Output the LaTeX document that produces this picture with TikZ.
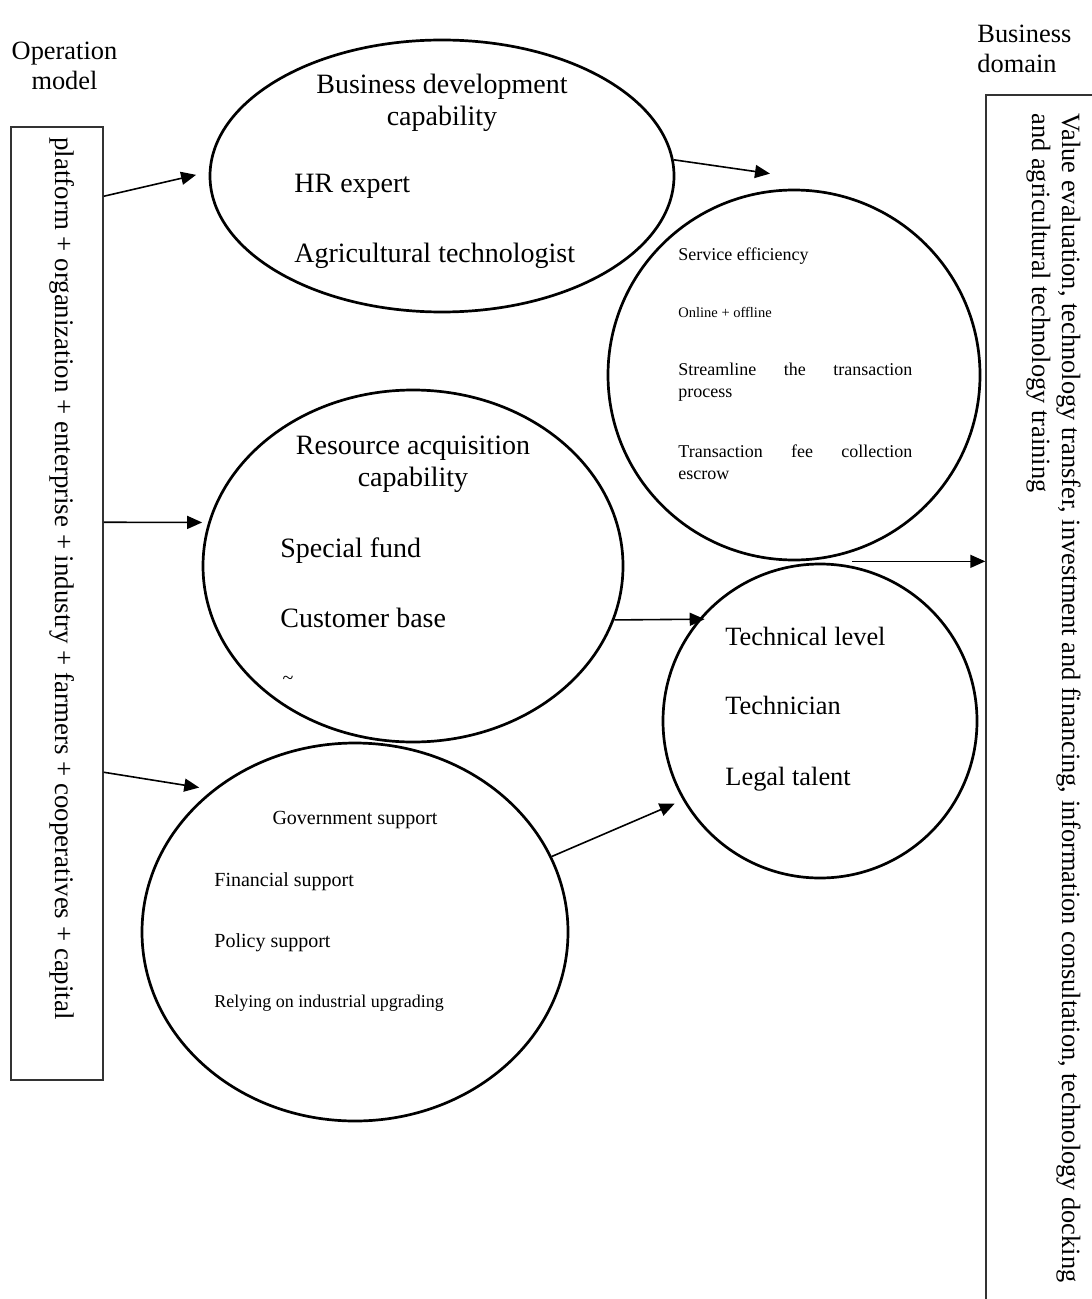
\documentclass[tikz,border=0pt]{standalone}
\usepackage{fontspec}
\setmainfont{Liberation Serif}
\usetikzlibrary{shapes.geometric,arrows.meta}
\hyphenpenalty=10000
\tolerance=10000

\begin{document}
\begin{tikzpicture}[x=0.5pt, y=-0.5pt,
		bubble/.style={draw, ellipse, line width=1.35pt, inner sep=0pt},
		frame/.style={draw=black!80, line width=0.75pt, inner sep=0pt},
		arr/.style={-{Triangle[length=7.5pt,width=6.5pt]}, line width=0.8pt},
		big/.style={inner sep=0pt, font=\fontsize{14pt}{16pt}\selectfont},
		mid/.style={inner sep=0pt, font=\fontsize{13.2pt}{15pt}\selectfont},
		gtext/.style={inner sep=0pt, font=\fontsize{10pt}{12pt}\selectfont},
		small/.style={inner sep=0pt, font=\fontsize{9pt}{11pt}\selectfont},
		tiny/.style={inner sep=0pt, font=\fontsize{7.25pt}{9pt}\selectfont}]
		\useasboundingbox (0,0) rectangle (1091,1299);
		
		% headers
		\node[mid, align=center, anchor=north] (ophead) at (64.5,42) {Operation\\model};
		\node[mid, align=left, anchor=north west] (domhead) at (977,25) {Business\\domain};
		
		% side boxes
		\node[frame, minimum width=46pt, minimum height=476.5pt] (opbox) at (57,603.5) {};
		\node[mid, font=\fontsize{13.45pt}{15pt}\selectfont, rotate=-90, anchor=west] (optext) at (62,137) {platform + organization + enterprise + industry + farmers + cooperatives + capital};
		\node[frame, minimum width=55pt, minimum height=605pt] (dombox) at (1041,700) {};
		\node[mid, rotate=-90, align=left, anchor=north west] (domtext) at (1081,113) {Value evaluation, technology transfer, investment and financing, information consultation, technology docking\\and agricultural technology training};
		
		% bubbles
		\node[bubble, minimum width=232pt, minimum height=136pt] (bdev) at (442,176) {};
		\node[bubble, minimum width=186pt, minimum height=185pt] (svc) at (794,375) {};
		\node[bubble, minimum width=210pt, minimum height=176pt] (res) at (413,566) {};
		\node[bubble, minimum width=157pt, minimum height=157pt] (tech) at (820,721) {};
		\node[bubble, minimum width=213pt, minimum height=189pt] (gov) at (355,932) {};
		
		% business development
		\node[big, align=center, anchor=north] (bdevtitle) at (442,74) {Business development\\capability};
		\node[big, anchor=base west] (hr) at (294,193) {HR expert};
		\node[big, anchor=base west] (agri) at (294,263) {Agricultural technologist};
		
		% service
		\node[small, anchor=base west] (eff) at (678,261) {Service efficiency};
		\node[tiny, anchor=base west] (online) at (678,317) {Online + offline};
		\node[small, anchor=north west, text width=117pt, align=justify] (stream) at (678,363) {Streamline the transaction process};
		\node[small, anchor=north west, text width=117pt, align=justify] (fee) at (678,444) {Transaction fee collection escrow};
		
		% resources
		\node[big, align=center, anchor=north] (restitle) at (413,436) {Resource acquisition\\capability};
		\node[big, anchor=base west] (fund) at (280,557) {Special fund};
		\node[big, anchor=base west] (cust) at (280,627) {Customer base};
		\node[gtext, anchor=base] (tilde) at (288,684) {\textasciitilde};
		
		% government
		\node[gtext, anchor=base] (govtitle) at (355,824) {Government support};
		\node[gtext, anchor=base west] (fin) at (214,886) {Financial support};
		\node[gtext, anchor=base west] (policy) at (214,947) {Policy support};
		\node[small, anchor=base west] (rely) at (214,1007) {Relying on industrial upgrading};
		
		% technical
		\node[mid, anchor=base west] (level) at (725,645) {Technical level};
		\node[mid, anchor=base west] (techn) at (725,714) {Technician};
		\node[mid, anchor=base west] (legal) at (725,785) {Legal talent};
		
		% connectors
		\draw[arr, shorten >=6.5pt] ([yshift=-35pt]opbox.north east) -- (bdev.179);
		\draw[arr, shorten >=3pt] ([yshift=-198pt]opbox.north east) -- (res.168.1);
		\draw[arr, shorten >=6.8pt] ([yshift=-323pt]opbox.north east) -- (gov.135);
		\draw[arr] (bdev.4) -- ([xshift=-12pt,yshift=7.5pt]svc.north);
		\draw[arr, shorten >=-3pt] (res.-15.7) -- (tech.140.9);
		\draw[arr, shorten >=4.5pt] (gov.21) -- (tech.210.4);
		\draw[arr] ([xshift=29pt]svc.south) -- (svc.south -| dombox.west);
	\end{tikzpicture}
\end{document}
